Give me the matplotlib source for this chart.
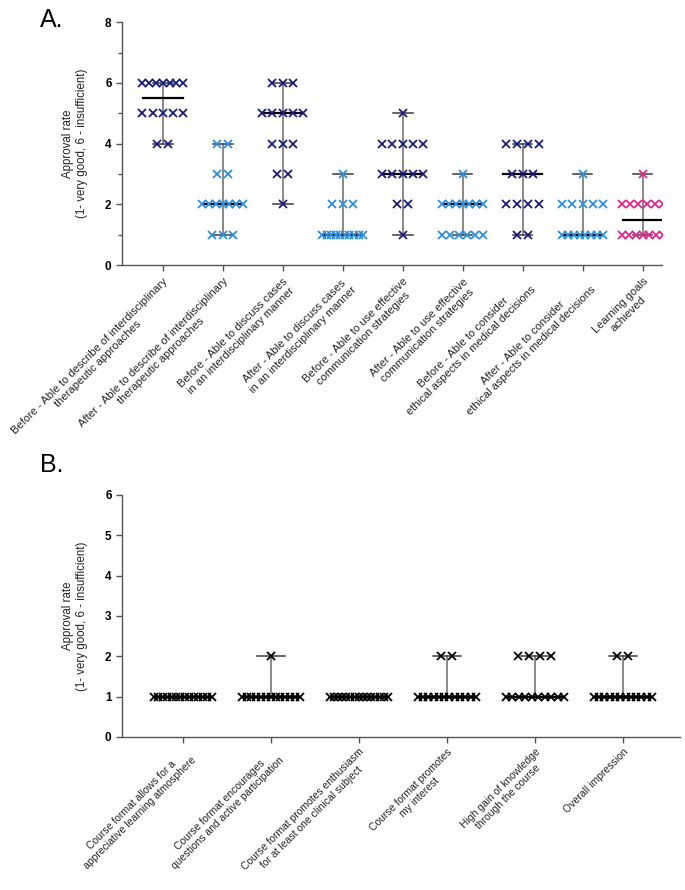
import numpy as np
import matplotlib.pyplot as plt

plt.rcParams['font.family'] = ['Liberation Sans', 'DejaVu Sans']

# answer scores (1 - very good ... 6 - insufficient)
scores = [1, 2, 3, 4, 5, 6]

labels_a = [
    "Before - Able to describe of interdisciplinary\ntherapeutic approaches",
    "After - Able to describe of interdisciplinary\ntherapeutic approaches",
    "Before - Able to discuss cases\nin an interdisciplinary manner",
    "After - Able to discuss cases\nin an interdisciplinary manner",
    "Before - Able to use effective\ncommunication strategies",
    "After - Able to use effective\ncommunication strategies",
    "Before - Able to consider\nethical aspects in medical decisions",
    "After - Able to consider\nethical aspects in medical decisions",
    "Learning goals\nachieved",
]
# number of answers per score 1..6
counts_a = [
    [0, 0, 0, 2, 5, 7],
    [3, 7, 2, 2, 0, 0],
    [0, 1, 2, 3, 5, 3],
    [10, 3, 1, 0, 0, 0],
    [1, 2, 5, 5, 1, 0],
    [6, 7, 1, 0, 0, 0],
    [2, 4, 3, 4, 0, 0],
    [8, 5, 1, 0, 0, 0],
    [7, 6, 1, 0, 0, 0],
]
navy = "#1b1b7d"
light = "#2d8fe2"
pink = "#e2278b"
colors_a = [navy, light, navy, light, navy, light, navy, light, pink]

labels_b = [
    "Course format allows for a\nappreciative learning atmosphere",
    "Course format encourages\nquestions and active participation",
    "Course format promotes enthusiasm\nfor at least one clinical subject",
    "Course format promotes\nmy interest",
    "High gain of knowledge\nthrough the course",
    "Overall impression",
]
counts_b = [
    [14, 0, 0, 0, 0, 0],
    [13, 1, 0, 0, 0, 0],
    [15, 0, 0, 0, 0, 0],
    [12, 2, 0, 0, 0, 0],
    [10, 4, 0, 0, 0, 0],
    [12, 2, 0, 0, 0, 0],
]
colors_b = ["black"] * len(counts_b)

ylabel = "Approval rate\n(1- very good, 6 - insufficient)"


def draw_panel(ax, counts, colors, max_w, max_step, med_w, cap_w):
    for i, (cnt, col) in enumerate(zip(counts, colors)):
        vals = np.repeat(scores, cnt)
        lo, hi, med = vals.min(), vals.max(), np.median(vals)
        # range with caps, median line
        ax.plot([i, i], [lo, hi], color="#6a6a6a", lw=1.1, zorder=1)
        for v in (lo, hi):
            ax.plot([i - cap_w / 2, i + cap_w / 2], [v, v], color="#3a3a3a", lw=1.1, zorder=1)
        ax.plot([i - med_w / 2, i + med_w / 2], [med, med], color="black", lw=1.6, zorder=2)
        # scatter of answers, spread sideways
        for s, n in zip(scores, cnt):
            if n == 0:
                continue
            step = min(max_step, max_w / (n - 1)) if n > 1 else 0
            xs = i + (np.arange(n) - (n - 1) / 2) * step
            ax.plot(xs, [s] * n, "x", color=col, ms=5.5, mew=1.3, zorder=3)


def style_axis(ax, labels, ymax, ystep, lab_size, pad):
    for sp in ("top", "right"):
        ax.spines[sp].set_visible(False)
    for sp in ("left", "bottom"):
        ax.spines[sp].set_color("#555555")
        ax.spines[sp].set_linewidth(1.0)
    ax.set_ylim(0, ymax)
    ax.set_yticks(np.arange(0, ymax + 1, ystep))
    ax.set_xticks(range(len(labels)))
    ax.set_xticklabels(labels, rotation=45, ha="right", rotation_mode="anchor",
                       fontsize=lab_size, color="#222222", multialignment="center")
    ax.tick_params(axis="both", colors="#555555", length=4, width=1.0)
    ax.tick_params(axis="y", labelcolor="black", labelsize=8.5)
    ax.tick_params(axis="x", labelcolor="#222222", pad=pad)
    for t in ax.get_yticklabels():
        t.set_fontweight("bold")
    ax.set_ylabel(ylabel, fontsize=8.3, labelpad=12, color="#222222")


fig = plt.figure(figsize=(6.85, 8.9), dpi=100)

ax1 = fig.add_axes([0.178, 0.702, 0.788, 0.273])
draw_panel(ax1, counts_a, colors_a, 0.68, 0.18, 0.66, 0.33)
style_axis(ax1, labels_a, 8, 2, 8, 4)
ax1.set_yticks([1, 3, 5, 7], minor=True)
ax1.tick_params(axis="y", which="minor", length=3, width=1.0, colors="#555555")
ax1.set_xlim(-0.68, 8.32)

ax2 = fig.add_axes([0.178, 0.172, 0.815, 0.272])
draw_panel(ax2, counts_b, colors_b, 0.66, 0.125, 0.66, 0.32)
style_axis(ax2, labels_b, 6, 1, 7.5, 3)
ax2.set_xlim(-0.69, 5.65)

fig.text(0.058, 0.978, "A.", fontsize=18, va="center")
fig.text(0.058, 0.478, "B.", fontsize=18, va="center")

fig.savefig("out.png", dpi=100)
